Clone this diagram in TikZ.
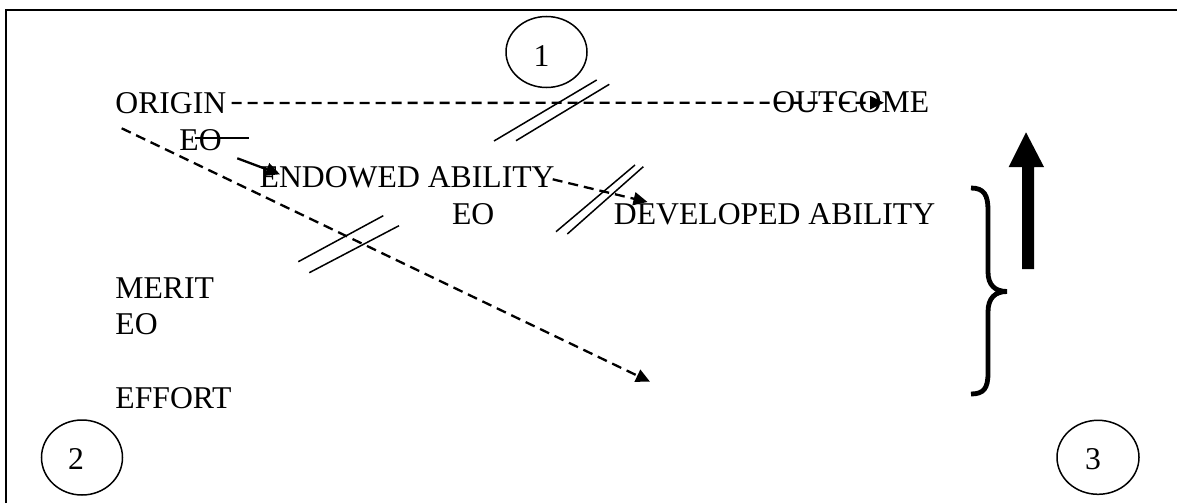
\documentclass[tikz,border=0pt]{standalone}
\usepackage{fontspec}
\setmainfont{Liberation Serif}
\usetikzlibrary{arrows.meta,shapes.geometric}
\begin{document}
\begin{tikzpicture}[x=0.5pt,y=-0.5pt,
  lbl/.style={inner sep=0pt, anchor=base west, font=\fontsize{15.85}{19}\selectfont},
  numtxt/.style={inner sep=0pt, anchor=center, font=\fontsize{15.85}{19}\selectfont},
  ring/.style={draw, ellipse, line width=0.75pt, inner sep=0pt},
  dsh/.style={line width=1.15pt, dash pattern=on 5pt off 3pt},
  arr/.style={-{Triangle[length=7pt,width=6.5pt]}},
  sl/.style={line width=0.75pt},
  frame/.style={line width=1pt}]
\useasboundingbox (0,0) rectangle (1177,503);
% frame
\draw[frame] (6,503) -- (6,10) -- (1177,10);
% circles with numbers
\node[ring, minimum width=40.5pt, minimum height=35.5pt] (c1) at (546.5,52) {};
\node[ring, minimum width=40.5pt, minimum height=37.5pt] (c2) at (82,457.5) {};
\node[ring, minimum width=41pt, minimum height=37pt] (c3) at (1098,457.3) {};
\node[numtxt] (n1) at (541.5,56) {1};
\node[numtxt] (n2) at (76,459) {2};
\node[numtxt] (n3) at (1093,459) {3};
% labels
\node[lbl] (origin) at (115,113.3) {ORIGIN};
\node[lbl] (outcome) at (772,112) {OUTCOME};
\node[lbl] (eo1) at (179,150) {EO};
\node[lbl] (endowed) at (259.3,187) {ENDOWED ABILITY};
\node[lbl] (eo2) at (451.7,224) {EO};
\node[lbl] (developed) at (613.5,224.5) {DEVELOPED ABILITY};
\node[lbl] (merit) at (115,298.3) {MERIT};
\node[lbl] (eo3) at (115,334) {EO};
\node[lbl] (effort) at (115,408.3) {EFFORT};
% connector ends
\coordinate (outtip) at (884,102.7);
\coordinate (o2) at (121.7,128.3);
\coordinate (lowtip) at (650,381.7);
\coordinate (devtip) at (647.5,202);
\coordinate (endtip) at (280,174.3);
\coordinate (eo1a) at (237.3,158.3);
\coordinate (enda) at (552.7,179.3);
\coordinate (eostrA) at (195,138.3);
\coordinate (eostrB) at (249,138.3);
% connectors
\draw[dsh,arr] ([xshift=2.5pt]origin.east) -- (outtip);
\draw[dsh,arr] (o2) -- (lowtip);
\draw[dsh,arr] (enda) -- (devtip);
\draw[line width=1.15pt,arr] (eo1a) -- (endtip);
\draw[line width=1.15pt] (eostrA) -- (eostrB);
% slash marks
\draw[sl] (494,141) -- (596.7,80);
\draw[sl] (516,140.7) -- (609.3,84.3);
\draw[sl] (556,231.7) -- (635,165);
\draw[sl] (567.3,234) -- (643.3,166.7);
\draw[sl] (298.3,261.7) -- (383.3,215.7);
\draw[sl] (309.3,272.7) -- (399,225.7);
% brace
\draw[line width=2.4pt] (971,188) .. controls (984,188) and (988,195) .. (988,210)
  -- (988,272) .. controls (988,285) and (995,291.5) .. (1007,291.5)
  .. controls (995,291.5) and (988,298) .. (988,312)
  -- (988,373) .. controls (988,388) and (984,394) .. (971,394);
% thick arrow
\fill (1022,269) -- (1034,269) -- (1034,167) -- (1044,167) -- (1026,132.3)
  -- (1008.7,167) -- (1022,167) -- cycle;
\end{tikzpicture}
\end{document}
